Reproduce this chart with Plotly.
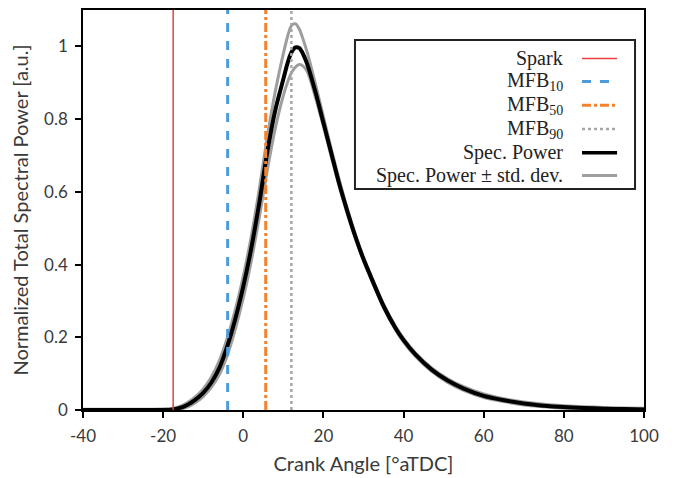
import plotly.graph_objects as go

# ---- data ----
crank_angle = [-40, -35, -30, -25, -20, -18, -16, -14, -12, -10, -8, -6, -4, -2, 0, 2, 4, 6, 8, 10, 11, 12, 13,
               14, 15, 16, 18, 20, 22, 24, 26, 28, 30, 32, 35, 38, 40, 43, 47, 51, 55, 60, 65, 70, 75, 80, 85,
               90, 95, 100]
spec_power = [0.0, 0.0, 0.0, 0.0, 0.0, 0.001, 0.005, 0.014, 0.028, 0.047, 0.075, 0.115, 0.175, 0.25, 0.34,
              0.445, 0.57, 0.71, 0.825, 0.91, 0.952, 0.983, 0.997,
              0.995, 0.977, 0.95, 0.875, 0.79, 0.705, 0.62, 0.545, 0.476, 0.415, 0.362, 0.286, 0.225, 0.192,
              0.152, 0.111, 0.081, 0.059, 0.039, 0.027, 0.018, 0.012, 0.008, 0.0055,
              0.0037, 0.0025, 0.0017]
spec_power_plus = [0.002, 0.002, 0.002, 0.002, 0.003, 0.004, 0.009, 0.02, 0.036, 0.058, 0.09, 0.135, 0.198,
                   0.275, 0.368, 0.478, 0.608, 0.752, 0.877, 0.98, 1.025, 1.057, 1.062,
                   1.047, 1.017, 0.982, 0.897, 0.806, 0.716, 0.631, 0.553, 0.482, 0.42, 0.367, 0.291, 0.23, 0.197,
                   0.157, 0.116, 0.086, 0.064, 0.044, 0.031, 0.022, 0.016, 0.012, 0.009,
                   0.007, 0.0055, 0.0045]
spec_power_minus = [0.0, 0.0, 0.0, 0.0, 0.0, 0.0, 0.002, 0.008, 0.02, 0.037, 0.062, 0.097, 0.15, 0.222, 0.308,
                    0.41, 0.53, 0.66, 0.775, 0.865, 0.9, 0.927, 0.943,
                    0.95, 0.945, 0.93, 0.86, 0.78, 0.695, 0.612, 0.538, 0.47, 0.41, 0.357, 0.281, 0.22, 0.187,
                    0.147, 0.106, 0.076, 0.054, 0.034, 0.023, 0.014, 0.009, 0.005, 0.003,
                    0.002, 0.001, 0.0]

spark = -17.5
mfb10 = -3.9
mfb50 = 5.6
mfb90 = 12.0

x_ticks = [-40, -20, 0, 20, 40, 60, 80, 100]
x_tick_labels = ["-40", "-20", "0", "20", "40", "60", "80", "100"]
y_ticks = [0, 0.2, 0.4, 0.6, 0.8, 1]
y_tick_labels = ["0", "0.2", "0.4", "0.6", "0.8", "1"]
y_max = 1.1

legend_labels = ["Spark", "MFB<sub>10</sub>", "MFB<sub>50</sub>", "MFB<sub>90</sub>",
                 "Spec. Power", "Spec. Power ± std. dev."]

# ---- styles ----
RED = "#E8423F"
BLUE = "#4C9BDB"
ORANGE = "#F2822E"
GREY = "#A6A6A6"
CURVE_GREY = "#9E9E9E"
SPL = dict(shape="spline", smoothing=0.8)

fig = go.Figure()

fig.add_trace(go.Scatter(x=crank_angle, y=spec_power_plus, mode="lines", line=dict(color=CURVE_GREY, width=3, **SPL), showlegend=False))
fig.add_trace(go.Scatter(x=crank_angle, y=spec_power_minus, mode="lines", line=dict(color=CURVE_GREY, width=3, **SPL), showlegend=False))
fig.add_trace(go.Scatter(x=crank_angle, y=spec_power, mode="lines", line=dict(color="black", width=4, **SPL), showlegend=False))

vlines = [(spark, RED, 1.5, "solid"), (mfb10, BLUE, 3, "dash"), (mfb50, ORANGE, 3, "dashdot"), (mfb90, GREY, 2.5, "dot")]
for xv, col, w, d in vlines:
    fig.add_trace(go.Scatter(x=[xv, xv], y=[0, y_max], mode="lines", line=dict(color=col, width=w, dash=d), showlegend=False))

# ---- custom legend (symbols on the right, like the reference) ----
L_LEFT, L_RIGHT, L_TOP, L_BOT = 0.4848, 0.984, 0.925, 0.5525
TEXT_X = 0.859
SAMPLE_X0, SAMPLE_X1 = 0.8895, 0.952
row_y = [0.879, 0.821, 0.762, 0.7025, 0.643, 0.586]
sample_styles = [(RED, 1.5, "solid"), (BLUE, 3, "dash"), (ORANGE, 3, "dashdot"), (GREY, 2.5, "dot"),
                 ("black", 3.5, "solid"), (CURVE_GREY, 3, "solid")]

shapes = [dict(type="rect", xref="paper", yref="paper", x0=L_LEFT, x1=L_RIGHT, y0=L_BOT, y1=L_TOP,
               line=dict(color="#222222", width=2), fillcolor="white", layer="above")]
annotations = []
for lab, yy, (col, w, d) in zip(legend_labels, row_y, sample_styles):
    shapes.append(dict(type="line", xref="paper", yref="paper", x0=SAMPLE_X0, x1=SAMPLE_X1, y0=yy, y1=yy,
                       line=dict(color=col, width=w, dash=d), layer="above"))
    annotations.append(dict(xref="paper", yref="paper", x=TEXT_X, y=yy, text=lab, showarrow=False,
                            xanchor="right", yanchor="middle",
                            font=dict(family="Liberation Serif", size=20, color="#222222")))

axis_font = dict(family="Lato", size=17, color="#3a3a3a")
title_font = dict(family="Lato", size=20, color="#3a3a3a")

fig.update_layout(
    width=674, height=478,
    margin=dict(l=83, r=30, t=10, b=68, autoexpand=False),
    paper_bgcolor="white", plot_bgcolor="white",
    showlegend=False,
    shapes=shapes, annotations=annotations,
    xaxis=dict(range=[-40, 100], tickvals=x_ticks, ticktext=x_tick_labels, ticks="outside", ticklen=6, tickwidth=1.5,
               tickcolor="black", showline=True, linecolor="black", linewidth=1.5, mirror=True, showgrid=False,
               zeroline=False, tickfont=axis_font, ticklabelstandoff=4, automargin=False,
               title=dict(text="Crank Angle [°aTDC]", font=title_font, standoff=12)),
    yaxis=dict(range=[0, y_max], tickvals=y_ticks, ticktext=y_tick_labels, ticks="outside", ticklen=6, tickwidth=1.5,
               tickcolor="black", showline=True, linecolor="black", linewidth=1.5, mirror=True, showgrid=False,
               zeroline=False, tickfont=axis_font, ticklabelstandoff=4, automargin=False,
               title=dict(text="Normalized Total Spectral Power [a.u.]", font=title_font, standoff=10)),
    xaxis2=dict(range=[-40, 100], overlaying="x", anchor="y", tickvals=x_ticks, ticks="inside", ticklen=6,
                tickwidth=1.5, tickcolor="black", showticklabels=False, showline=False, showgrid=False,
                zeroline=False, automargin=False),
    yaxis2=dict(range=[0, y_max], overlaying="y", anchor="x", tickvals=y_ticks, ticks="inside", ticklen=6,
                tickwidth=1.5, tickcolor="black", showticklabels=False, showline=False, showgrid=False,
                zeroline=False, automargin=False),
)

fig.write_html("out.html")
